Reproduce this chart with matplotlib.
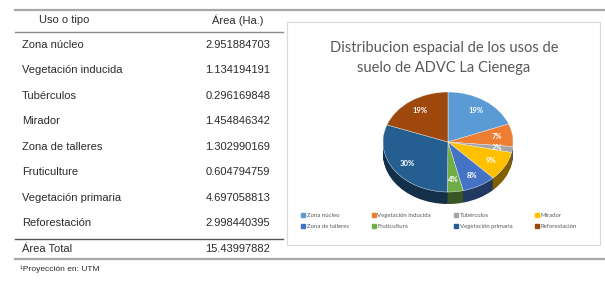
import numpy as np
import matplotlib
matplotlib.use('Agg')
import matplotlib.pyplot as plt
from matplotlib.patches import Rectangle
from matplotlib.lines import Line2D
import matplotlib.colors as mcolors

plt.rcParams['font.family'] = ['Liberation Sans', 'DejaVu Sans']

# ---------------- data ----------------
usos = ['Zona núcleo', 'Vegetación inducida', 'Tubérculos', 'Mirador',
        'Zona de talleres', 'Fruticulture', 'Vegetación primaria', 'Reforestación']
areas = [2.951884703, 1.134194191, 0.296169848, 1.454846342,
         1.302990169, 0.604794759, 4.697058813, 2.998440395]
area_labels = ['2.951884703', '1.134194191', '0.296169848', '1.454846342',
               '1.302990169', '0.604794759', '4.697058813', '2.998440395']
total_label = '15.43997882'
leyenda = ['Zona núcleo', 'Vegetación inducida', 'Tubérculos', 'Mirador',
           'Zona de talleres', 'Fruticultura', 'Vegetación primaria', 'Reforestación']
colores = ['#5B9BD5', '#ED7D31', '#A5A5A5', '#FFC000',
           '#4472C4', '#70AD47', '#255E91', '#9E480E']

W, H = 605, 281
fig = plt.figure(figsize=(W / 100, H / 100), dpi=100)
fig.patch.set_facecolor('white')

def fx(px):
    return px / W

def fy(py):
    return 1 - py / H

def hline(y, x0, x1, color='#9a9a9a', lw=1.2):
    fig.add_artist(Line2D([fx(x0), fx(x1)], [fy(y), fy(y)], color=color, lw=lw,
                          transform=fig.transFigure))

########## table ##########
txt = '#2b2b2b'
hline(10, 15, 605, '#a8a8a8', 1.6)
hline(32, 15, 283, '#8c8c8c', 1.0)
hline(239, 15, 283, '#555555', 1.0)
hline(259, 15, 605, '#a8a8a8', 1.6)

fig.text(fx(64), fy(20), 'Uso o tipo', ha='center', va='center', fontsize=8, color=txt)
fig.text(fx(238), fy(20), 'Área (Ha.)', ha='center', va='center', fontsize=8, color=txt)

row_y = np.linspace(45, 223, len(usos))
for i in range(len(usos)):
    fig.text(fx(22), fy(row_y[i]), usos[i], ha='left', va='center', fontsize=8, color=txt)
    fig.text(fx(238), fy(row_y[i]), area_labels[i], ha='center', va='center', fontsize=8, color=txt)

fig.text(fx(22), fy(249), 'Área Total', ha='left', va='center', fontsize=8, color=txt)
fig.text(fx(238), fy(249), total_label, ha='center', va='center', fontsize=8, color=txt)
fig.text(fx(20), fy(269), '¹Proyección en: UTM', ha='left', va='center', fontsize=6, color=txt)

########## chart box ##########
fig.add_artist(Rectangle((fx(287), fy(245)), fx(600) - fx(287), fy(22) - fy(245),
                         transform=fig.transFigure, facecolor='white',
                         edgecolor='#d9d9d9', lw=0.8, zorder=-1))
fig.text(fx(444), fy(58), 'Distribucion espacial de los usos de\nsuelo de ADVC La Cienega',
         ha='center', va='center', fontsize=10.5, color='#595959', family='Lato',
         linespacing=1.55)

########## 3D-like pie ##########
ax = fig.add_axes([fx(376), fy(207), fx(520) - fx(376), fy(85) - fy(207)])
ax.set_zorder(1)
depth = 0.24
oscuros = [tuple(np.array(mcolors.to_rgb(c)) * 0.5) for c in colores]
for d in np.linspace(depth, 0.01, 16):
    ax.pie(areas, colors=oscuros, startangle=90, counterclock=False, center=(0, -d),
           wedgeprops=dict(linewidth=0))
wedges, _, autot = ax.pie(areas, colors=colores, startangle=90, counterclock=False,
                          autopct='%1.0f%%', pctdistance=0.76,
                          wedgeprops=dict(edgecolor='white', linewidth=0.3),
                          textprops=dict(color='white', fontsize=5.5,
                                         fontweight='bold', family='Lato'))
ax.set_aspect('auto')
ax.set_xlim(-144 / 130, 144 / 130)
ax.set_ylim(-1.3, 1.14)
ax.axis('off')

########## legend ##########
orden = [0, 4, 1, 5, 2, 6, 3, 7]
handles = [Line2D([], [], marker='s', ls='', color=colores[i], markersize=3) for i in orden]
labels = [leyenda[i] for i in orden]
fig.legend(handles, labels, ncol=4, loc='center', bbox_to_anchor=(fx(439), fy(221)),
           frameon=False, labelcolor='#595959', handletextpad=0.2,
           columnspacing=3.8, handlelength=0.8, labelspacing=0.9,
           prop=dict(family='Lato', size=4.3))

fig.savefig('out.png', dpi=100)
